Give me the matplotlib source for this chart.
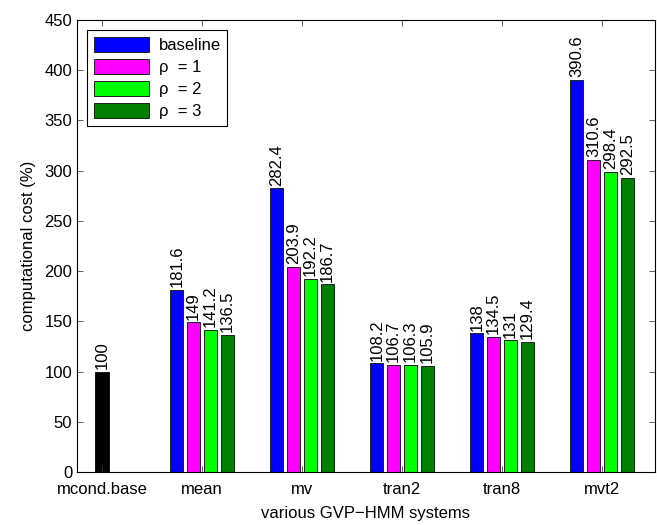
import numpy as np
import matplotlib
matplotlib.use("Agg")
import matplotlib.pyplot as plt

plt.rcParams['font.family'] = ['Liberation Sans', 'DejaVu Sans']

# data
categories = ['mcond.base', 'mean', 'mv', 'tran2', 'tran8', 'mvt2']
base_value = 100
series_names = ['baseline', 'ρ  = 1', 'ρ  = 2', 'ρ  = 3']
baseline = [181.6, 282.4, 108.2, 138, 390.6]
rho1 = [149, 203.9, 106.7, 134.5, 310.6]
rho2 = [141.2, 192.2, 106.3, 131, 298.4]
rho3 = [136.5, 186.7, 105.9, 129.4, 292.5]
colors = ['#0000ff', '#ff00ff', '#00ff00', '#007f00']

fig = plt.figure(figsize=(6.57, 5.25), dpi=100)
ax = fig.add_axes([77 / 657, 53 / 525, 578 / 657, 452 / 525])

x = np.arange(1, len(categories) + 1)
fs = 12

def label(xp, v):
    txt = ('%g' % v)
    ax.annotate(txt, (xp, v), xytext=(0, 2), textcoords='offset points',
                rotation=90, ha='center', va='bottom', fontsize=fs)

# mcond.base bar
ax.bar(x[0], base_value, width=0.14, color='black', edgecolor='black', linewidth=0.6)
label(x[0], base_value)

step = 0.168
width = 0.128
for i, (vals, name, c) in enumerate(zip([baseline, rho1, rho2, rho3], series_names, colors)):
    xs = x[1:] + (i - 1.5) * step
    ax.bar(xs, vals, width=width, color=c, edgecolor='#202020', linewidth=0.7, label=name)
    for xp, v in zip(xs, vals):
        label(xp, v)

ax.set_xlim(0.75, 6.53)
ax.set_ylim(0, 450)
ax.set_yticks(np.arange(0, 451, 50))
ax.set_xticks(x)
ax.set_xticklabels(categories, fontsize=fs)
ax.tick_params(axis='y', labelsize=fs)
ax.tick_params(direction='in', top=True, right=True, length=4, width=0.6, color='#444444')
ax.tick_params(axis='x', pad=7)
for s in ax.spines.values():
    s.set_linewidth(0.8)

ax.set_ylabel('computational cost (%)', fontsize=fs, labelpad=6)
ax.set_xlabel('various GVP\u2212HMM systems', fontsize=fs, labelpad=7)

leg = ax.legend(loc='upper left', bbox_to_anchor=(0, 1), borderaxespad=0.6,
                fontsize=fs, handlelength=3.3, handleheight=1.0, fancybox=False,
                framealpha=1, edgecolor='black', borderpad=0.4, labelspacing=0.35,
                handletextpad=0.6)
leg.get_frame().set_linewidth(0.8)

fig.savefig('out.png', dpi=100)
